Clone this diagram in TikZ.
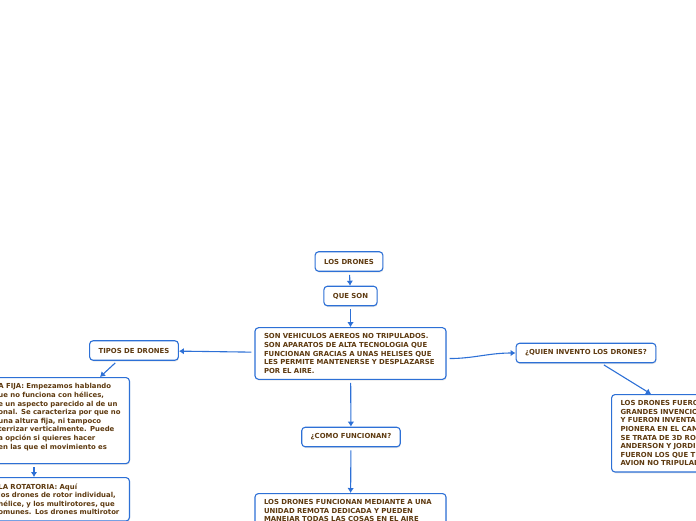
\documentclass[tikz,border=0pt]{standalone}
\usepackage{fontspec}
\setmainfont{DejaVu Sans}
\usepackage{xcolor}
\usetikzlibrary{arrows.meta,positioning,calc,shadows}
\definecolor{brd}{RGB}{45,112,214}
\definecolor{txt}{RGB}{94,58,16}

\begin{document}
\begin{tikzpicture}[x=1pt, y=-1pt,
  topic/.style={draw=brd, line width=1.1pt, rounded corners=3.5pt, fill=white,
    drop shadow={opacity=0.18, shadow xshift=0.6pt, shadow yshift=-1.3pt},
    text=txt, font=\fontsize{6.9}{8.6}\selectfont\bfseries,
    inner xsep=9pt, inner ysep=6pt},
  subtopic/.style={topic, minimum height=19.5pt, inner xsep=9pt},
  note/.style={topic, align=left, text width=#1},
  link/.style={draw=brd, line width=1.1pt, -{Latex[length=5pt,width=6.5pt]},
    shorten <=3pt}]
  \useasboundingbox (0,0) rectangle (696,520);
  \clip (0,0) rectangle (696,520);
  % central chain
  \node[subtopic] (drones) at (349,261.5) {LOS DRONES};
  \node[subtopic] (queson) at (350.5,296) {QUE SON};
  \node[note=173pt] (def) at (350.5,353.5) {SON VEHICULOS AEREOS NO TRIPULADOS.\\
    SON APARATOS DE ALTA TECNOLOGIA QUE\\
    FUNCIONAN GRACIAS A UNAS HELISES QUE\\
    LES PERMITE MANTENERSE Y DESPLAZARSE\\
    POR EL AIRE.};
  \node[subtopic] (como) at (351,437) {¿COMO FUNCIONAN?};
  \node[note=173pt, anchor=north] (funcion) at (350.5,493)
    {LOS DRONES FUNCIONAN MEDIANTE A UNA\\
    UNIDAD REMOTA DEDICADA Y PUEDEN\\
    MANEJAR TODAS LAS COSAS EN EL AIRE};
  % right branch
  \node[subtopic] (quien) at (586,353) {¿QUIEN INVENTO LOS DRONES?};
  \node[note=150pt, anchor=north west] (inventor) at (611,394)
    {LOS DRONES FUERON\\
    GRANDES INVENCIONES\\
    Y FUERON INVENTADOS\\
    PIONERA EN EL CAMPO\\
    SE TRATA DE 3D ROBOTICS\\
    ANDERSON Y JORDI\\
    FUERON LOS QUE T\\
    AVION NO TRIPULADO};
  % left branch (boxes run off the page edge)
  \node[subtopic] (tipos) at (134,350.5) {TIPOS DE DRONES};
  \node[note=124pt, inner xsep=7pt, anchor=north east] (fija) at (130,377)
    {A FIJA: Empezamos hablando\\
    ue no funciona con hélices,\\
    e un aspecto parecido al de un\\
    onal. Se caracteriza por que no\\
    una altura fija, ni tampoco\\
    terrizar verticalmente. Puede\\
    a opción si quieres hacer\\
    en las que el movimiento es\\
    \mbox{}};
  \node[note=124pt, inner xsep=7pt, anchor=north east] (rotatoria) at (130,477)
    {LA ROTATORIA: Aquí\\
    los drones de rotor individual,\\
    hélice, y los multirotores, que\\
    omunes. Los drones multirotor};
  \coordinate (lx) at (34,0);
  % connectors
  \draw[link] (drones) -- (queson);
  \draw[link] (queson) -- (def);
  \draw[link] (def) -- (tipos);
  \draw[link] (def.-3) to[out=0, in=180] (quien.west);
  \draw[link] (def) -- (como);
  \draw[link] (como) -- (funcion);
  \draw[link] (quien.-34) -- ($(inventor.north west)+(40,0)$);
  \draw[link] (tipos.-148) -- ($(fija.north east)+(-30,0)$);
  \draw[link] (fija.south -| lx) -- (rotatoria.north -| lx);
\end{tikzpicture}
\end{document}
